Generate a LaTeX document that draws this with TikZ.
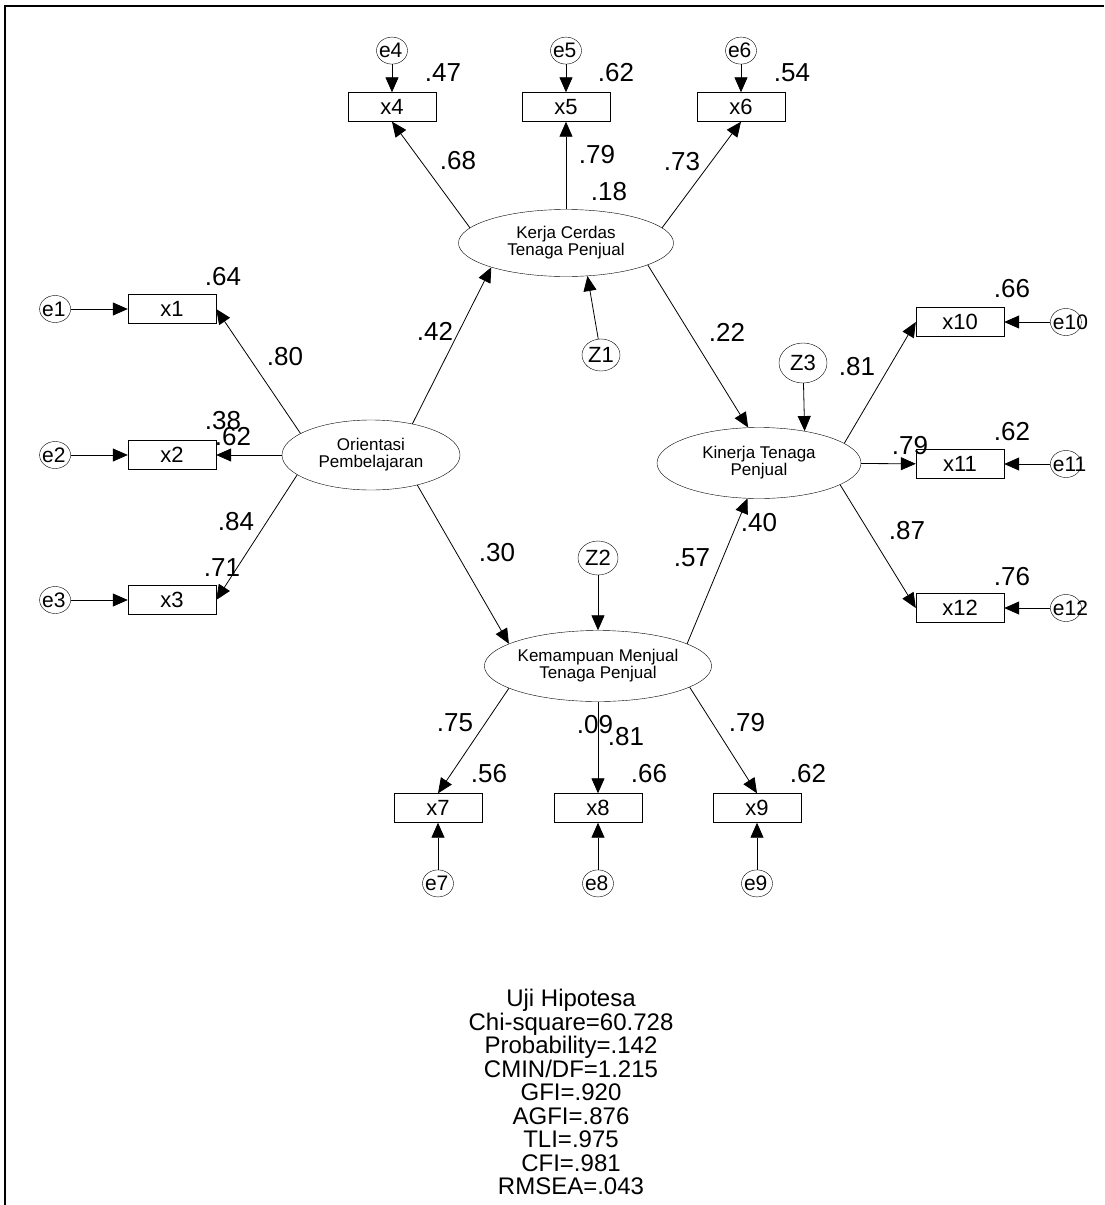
\documentclass[tikz,border=0pt]{standalone}
\usepackage{fontspec}
\setmainfont{Liberation Sans}
\usetikzlibrary{arrows.meta,positioning,shapes.geometric}

\begin{document}
\begin{tikzpicture}[
  x=1pt, y=-1pt,
  latent/.style={draw, ellipse, inner sep=0pt, align=center,
                 font=\fontsize{17}{17}\selectfont},
  ind/.style={draw, minimum width=88pt, minimum height=29pt, inner sep=0pt,
              font=\fontsize{22}{22}\selectfont},
  err/.style={draw, ellipse, minimum width=31pt, minimum height=27pt, inner sep=0pt,
              font=\fontsize{21}{21}\selectfont,
              execute at begin node={\hbox to 0pt\bgroup\hskip-13pt},
              execute at end node={\hss\egroup}},
  dist/.style={draw, ellipse, minimum width=40pt, minimum height=34pt, inner sep=0pt,
               font=\fontsize{22}{22}\selectfont},
  val/.style={inner sep=0pt, font=\fontsize{26}{26}\selectfont},
  link/.style={-{Triangle[length=15pt,width=13pt]}, line width=0.8pt}
]
\useasboundingbox (0,0) rectangle (1104,1205);
\draw[line width=2.5pt] (5,1205) -- (5,6) -- (1104,6);

% latent variables
\node[latent, minimum width=178pt, minimum height=70pt] (OP) at (371,455) {Orientasi\\Pembelajaran};
\node[latent, minimum width=215pt, minimum height=67pt] (KC) at (566,243) {Kerja Cerdas\\Tenaga Penjual};
\node[latent, minimum width=204pt, minimum height=71pt] (KT) at (759,463) {Kinerja Tenaga\\Penjual};
\node[latent, minimum width=194pt, minimum height=71pt] (KM) at (598,666) {Kemampuan Menjual\\Tenaga Penjual};

% indicators
\node[ind] (x1) at (172,309) {x1};
\node[ind] (x2) at (172,455) {x2};
\node[ind] (x3) at (172,600) {x3};
\node[ind] (x4) at (392,107) {x4};
\node[ind] (x5) at (566,107) {x5};
\node[ind] (x6) at (741,107) {x6};
\node[ind] (x7) at (438,808) {x7};
\node[ind] (x8) at (598,808) {x8};
\node[ind] (x9) at (757,808) {x9};
\node[ind] (x10) at (960,322) {x10};
\node[ind] (x11) at (960,464) {x11};
\node[ind] (x12) at (960,608) {x12};

% errors and disturbances
\node[err, left=57pt of x1] (e1) {e1};
\node[err, left=57pt of x2] (e2) {e2};
\node[err, left=57pt of x3] (e3) {e3};
\node[err, above=28pt of x4] (e4) {e4};
\node[err, above=28pt of x5] (e5) {e5};
\node[err, above=28pt of x6] (e6) {e6};
\node[err, below=47pt of x7] (e7) {e7};
\node[err, below=47pt of x8] (e8) {e8};
\node[err, below=47pt of x9] (e9) {e9};
\node[err, right=46pt of x10] (e10) {e10};
\node[err, right=46pt of x11] (e11) {e11};
\node[err, right=46pt of x12] (e12) {e12};
\node[dist, minimum width=38pt, minimum height=32pt] (Z1) at (601,355) {Z1};
\node[dist] (Z2) at (598,558) {Z2};
\node[dist, minimum width=48pt, minimum height=40pt] (Z3) at (803,363) {Z3};

% estimates
\node[val] (r1) at (223,277) {.64};
\node[val] (l1) at (285,357) {.80};
\node[val] (r2) at (223,421) {.38};
\node[val] (l2) at (233,437) {.62};
\node[val] (l3) at (236,522) {.84};
\node[val] (r3) at (222,568) {.71};
\node[val] (r4) at (443,73) {.47};
\node[val] (r5) at (616,73) {.62};
\node[val] (r6) at (792,73) {.54};
\node[val] (l4) at (458,161) {.68};
\node[val] (l5) at (597,155) {.79};
\node[val] (l6) at (682,162) {.73};
\node[val] (rKC) at (609,192) {.18};
\node[val] (gKC) at (435,331) {.42};
\node[val] (gKM) at (497,553) {.30};
\node[val] (bKC) at (727,332) {.22};
\node[val] (bKM) at (692,558) {.57};
\node[val] (rKT) at (759,523) {.40};
\node[val] (rKM) at (595,725) {.09};
\node[val] (r10) at (1012,289) {.66};
\node[val] (l10) at (857,367) {.81};
\node[val] (r11) at (1012,432) {.62};
\node[val] (l11) at (910,446) {.79};
\node[val] (l12) at (907,531) {.87};
\node[val] (r12) at (1012,577) {.76};
\node[val] (l7) at (455,723) {.75};
\node[val] (l8) at (626,737) {.81};
\node[val] (l9) at (747,723) {.79};
\node[val] (r7) at (489,774) {.56};
\node[val] (r8) at (649,774) {.66};
\node[val] (r9) at (808,774) {.62};

\node[inner sep=0pt, anchor=south, align=center,
      font=\fontsize{24}{23.5}\selectfont] (fit) at (571,1195)
  {Uji Hipotesa\\Chi-square=60.728\\Probability=.142\\CMIN/DF=1.215\\GFI=.920\\AGFI=.876\\TLI=.975\\CFI=.981\\RMSEA=.043};

% error paths
\foreach \i in {1,...,12}
  \draw[link] (e\i) -- (x\i);

% loadings
\draw[link] (OP.163) -- (x1.east);
\draw[link] (OP) -- (x2);
\draw[link] (OP.195) -- (x3.east);
\draw[link] (KC.171) -- (x4.south);
\draw[link] (KC) -- (x5);
\draw[link] (KC.9) -- (x6.south);
\draw[link] (KM.194) -- (x7.north);
\draw[link] (KM) -- (x8);
\draw[link] (KM.347) -- (x9.north);
\draw[link] (KT.13) -- (x10.west);
\draw[link] (KT) -- (x11);
\draw[link] (KT.345) -- (x12.west);

% structural paths
\draw[link] (OP.37) -- (KC.198);
\draw[link] (OP.327) -- (KM.166);
\draw[link] (KC.345) -- (KT.107);
\draw[link] (KM.14) -- (KT.252);
\draw[link] (Z1) -- (KC.303);
\draw[link] (Z2) -- (KM);
\draw[link] (Z3) -- (KT.35);
\end{tikzpicture}
\end{document}
